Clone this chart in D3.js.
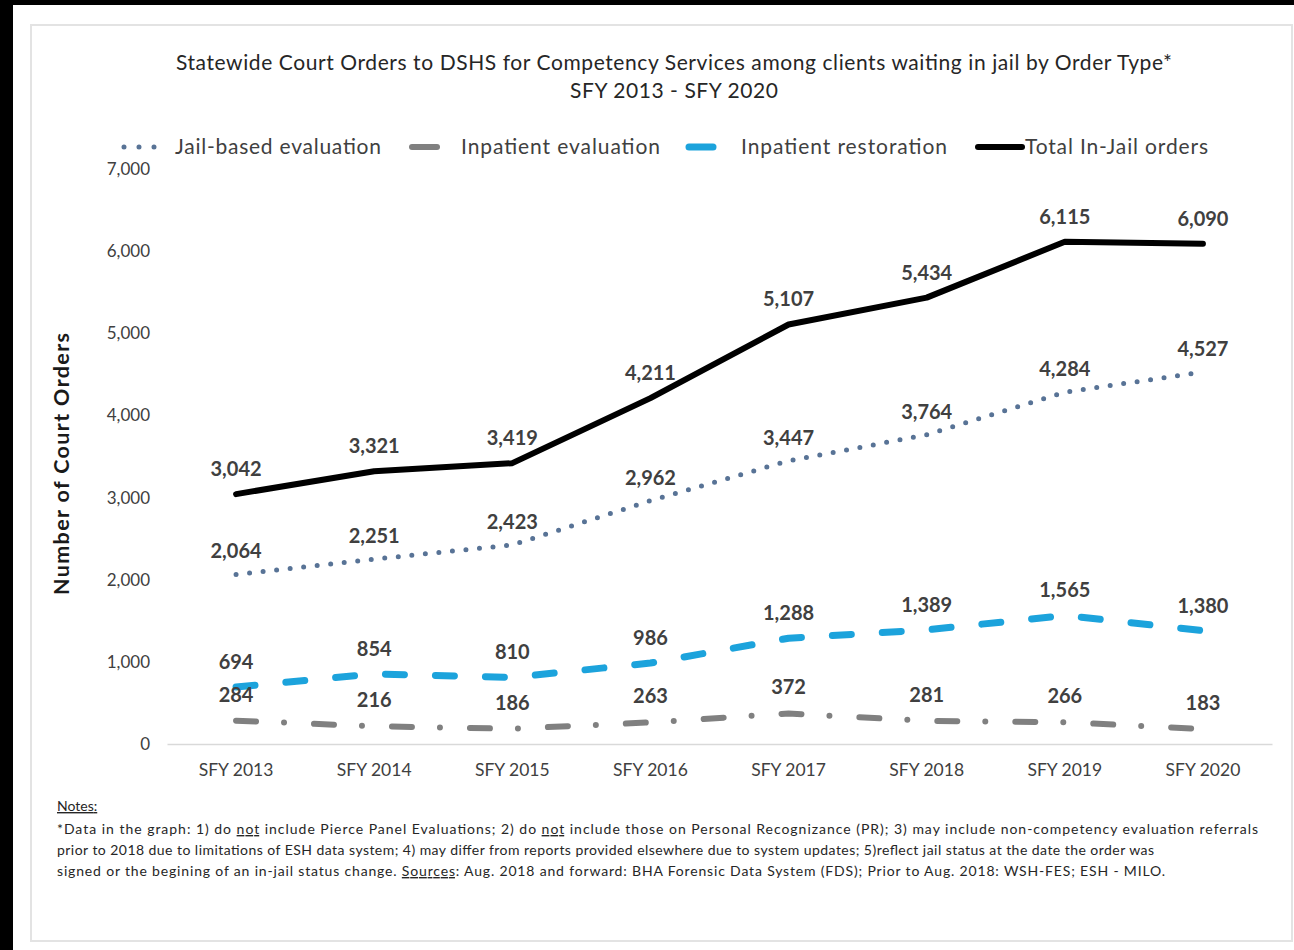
<!DOCTYPE html>
<html>
<head>
<meta charset="utf-8">
<script src="https://cdn.jsdelivr.net/npm/d3@7/dist/d3.min.js"></script>
<style>
  html, body { margin: 0; padding: 0; background: #000; }
  svg { display: block; }
  text { font-family: Lato, "Open Sans", sans-serif; }
</style>
</head>
<body>
<script>
// Fiscal years on the x axis
const years = ["SFY 2013", "SFY 2014", "SFY 2015", "SFY 2016", "SFY 2017", "SFY 2018", "SFY 2019", "SFY 2020"];

// Court orders by order type
const jailBasedEvaluation = [2064, 2251, 2423, 2962, 3447, 3764, 4284, 4527];
const inpatientEvaluation = [284, 216, 186, 263, 372, 281, 266, 183];
const inpatientRestoration = [694, 854, 810, 986, 1288, 1389, 1565, 1380];
const totalInJail = [3042, 3321, 3419, 4211, 5107, 5434, 6115, 6090];

const seriesNames = ["Jail-based evaluation", "Inpatient evaluation", "Inpatient restoration", "Total In-Jail orders"];
const yTicks = [0, 1000, 2000, 3000, 4000, 5000, 6000, 7000];

const titleLines = [
  "Statewide Court Orders to DSHS for Competency Services among clients waiting in jail by Order Type*",
  "SFY 2013 - SFY 2020"
];
const yAxisTitle = "Number of Court Orders";

// Notes: each line is a list of [text, underlined] runs
const notesHeading = "Notes";
const notesLines = [
  [["*Data in the graph: 1) do ", false], ["not", true], [" include Pierce Panel Evaluations; 2) do ", false], ["not", true], [" include those on Personal Recognizance (PR); 3) may include non-competency evaluation referrals", false]],
  [["prior to 2018 due to limitations of ESH data system; 4) may differ from reports provided elsewhere due to system updates; 5)reflect jail status at the date the order was", false]],
  [["signed or the begining of an in-jail status change. ", false], ["Sources", true], [": Aug. 2018 and forward: BHA Forensic Data System (FDS); Prior to Aug. 2018: WSH-FES; ESH - MILO.", false]]
];

const W = 1294, H = 950;
const svg = d3.select("body").append("svg").attr("width", W).attr("height", H);

// Page frame
svg.append("rect").attr("x", 0).attr("y", 0).attr("width", W).attr("height", H).attr("fill", "#000");
svg.append("rect").attr("x", 13).attr("y", 5).attr("width", W - 13).attr("height", H - 5).attr("fill", "#fff");
svg.append("rect").attr("x", 31).attr("y", 25).attr("width", 1261).attr("height", 916)
  .attr("fill", "#fff").attr("stroke", "#e3e3e3").attr("stroke-width", 2);

// Scales
const x = d3.scaleBand().domain(years).range([167, 1272]).padding(0);
const cx = d => x(d) + x.bandwidth() / 2;
const y = d3.scaleLinear().domain([0, 7000]).range([744, 169]);

// Title
const titleWidths = [996, 208];
svg.append("g").selectAll("text").data(titleLines).join("text")
  .attr("x", 674).attr("y", (d, i) => 70 + i * 28)
  .attr("text-anchor", "middle")
  .attr("font-size", 21)
  .attr("fill", "#262626")
  .attr("textLength", (d, i) => titleWidths[i])
  .text(d => d);

// Y axis (labels only)
const yAxis = svg.append("g").attr("transform", "translate(150,0)")
  .call(d3.axisLeft(y).tickValues(yTicks).tickFormat(d3.format(",")).tickSize(0).tickPadding(0));
yAxis.select(".domain").remove();
yAxis.selectAll("text").attr("font-family", "Lato, sans-serif").attr("font-size", 17).attr("fill", "#404040");

// X axis
const xAxis = svg.append("g").attr("transform", "translate(0,744)")
  .call(d3.axisBottom(x).tickSize(0).tickPadding(20));
xAxis.select(".domain").attr("stroke", "#d9d9d9").attr("stroke-width", 1.5);
xAxis.selectAll("text").attr("font-family", "Lato, sans-serif").attr("font-size", 17.5).attr("fill", "#404040");

// Y axis title
svg.append("text")
  .attr("transform", "translate(69,464) rotate(-90)")
  .attr("text-anchor", "middle")
  .attr("font-size", 21.5).attr("font-weight", "bold").attr("fill", "#1a1a1a")
  .attr("textLength", 262)
  .text(yAxisTitle);

// Series styles
const styles = [
  { values: jailBasedEvaluation, color: "#587396", width: 5, dash: "0,13.6", labelDy: -23 },
  { values: inpatientEvaluation, color: "#808080", width: 6, dash: "20,28,0,30", labelDy: -26 },
  { values: inpatientRestoration, color: "#1ca3dc", width: 7, dash: "19,31", labelDy: -25 },
  { values: totalInJail, color: "#000000", width: 6, dash: null, labelDy: -25 }
];

const line = d3.line().x((d, i) => cx(years[i])).y(d => y(d));

styles.forEach(s => {
  svg.append("path")
    .datum(s.values)
    .attr("d", line)
    .attr("fill", "none")
    .attr("stroke", s.color)
    .attr("stroke-width", s.width)
    .attr("stroke-linecap", "round")
    .attr("stroke-linejoin", "round")
    .attr("stroke-dasharray", s.dash);
});

// Data labels
styles.forEach(s => {
  svg.append("g").selectAll("text").data(s.values).join("text")
    .attr("x", (d, i) => cx(years[i]))
    .attr("y", d => y(d) + s.labelDy + 7)
    .attr("text-anchor", "middle")
    .attr("font-size", 20).attr("font-weight", "bold").attr("fill", "#404040")
    .text(d => d3.format(",")(d));
});

// Legend
const legendItems = [
  { x1: 124, x2: 155, tx: 175, w: 206 },
  { x1: 412, x2: 437, tx: 461, w: 199 },
  { x1: 689, x2: 713, tx: 741, w: 206 },
  { x1: 978, x2: 1022, tx: 1025, w: 183 }
];
const ly = 147;
legendItems.forEach((li, i) => {
  const s = styles[i];
  svg.append("line")
    .attr("x1", li.x1).attr("x2", li.x2).attr("y1", ly).attr("y2", ly)
    .attr("stroke", s.color).attr("stroke-width", s.width)
    .attr("stroke-linecap", "round")
    .attr("stroke-dasharray", i === 0 ? "0,15" : null);
  svg.append("text")
    .attr("x", li.tx).attr("y", ly + 7)
    .attr("font-size", 21).attr("fill", "#404040")
    .attr("textLength", li.w)
    .text(seriesNames[i]);
});

// Notes
svg.append("text")
  .attr("x", 57).attr("y", 811)
  .attr("font-size", 14).attr("fill", "#262626")
  .attr("text-decoration", "underline")
  .text(notesHeading)
  .append("tspan").attr("text-decoration", "none").text(":");

const notesWidths = [1201, 1097, 1108];
notesLines.forEach((runs, i) => {
  const t = svg.append("text")
    .attr("x", 57).attr("y", 834 + i * 21)
    .attr("font-size", 14).attr("fill", "#262626")
    .attr("textLength", notesWidths[i]);
  runs.forEach(r => {
    t.append("tspan").attr("text-decoration", r[1] ? "underline" : null).text(r[0]);
  });
});
</script>
</body>
</html>
